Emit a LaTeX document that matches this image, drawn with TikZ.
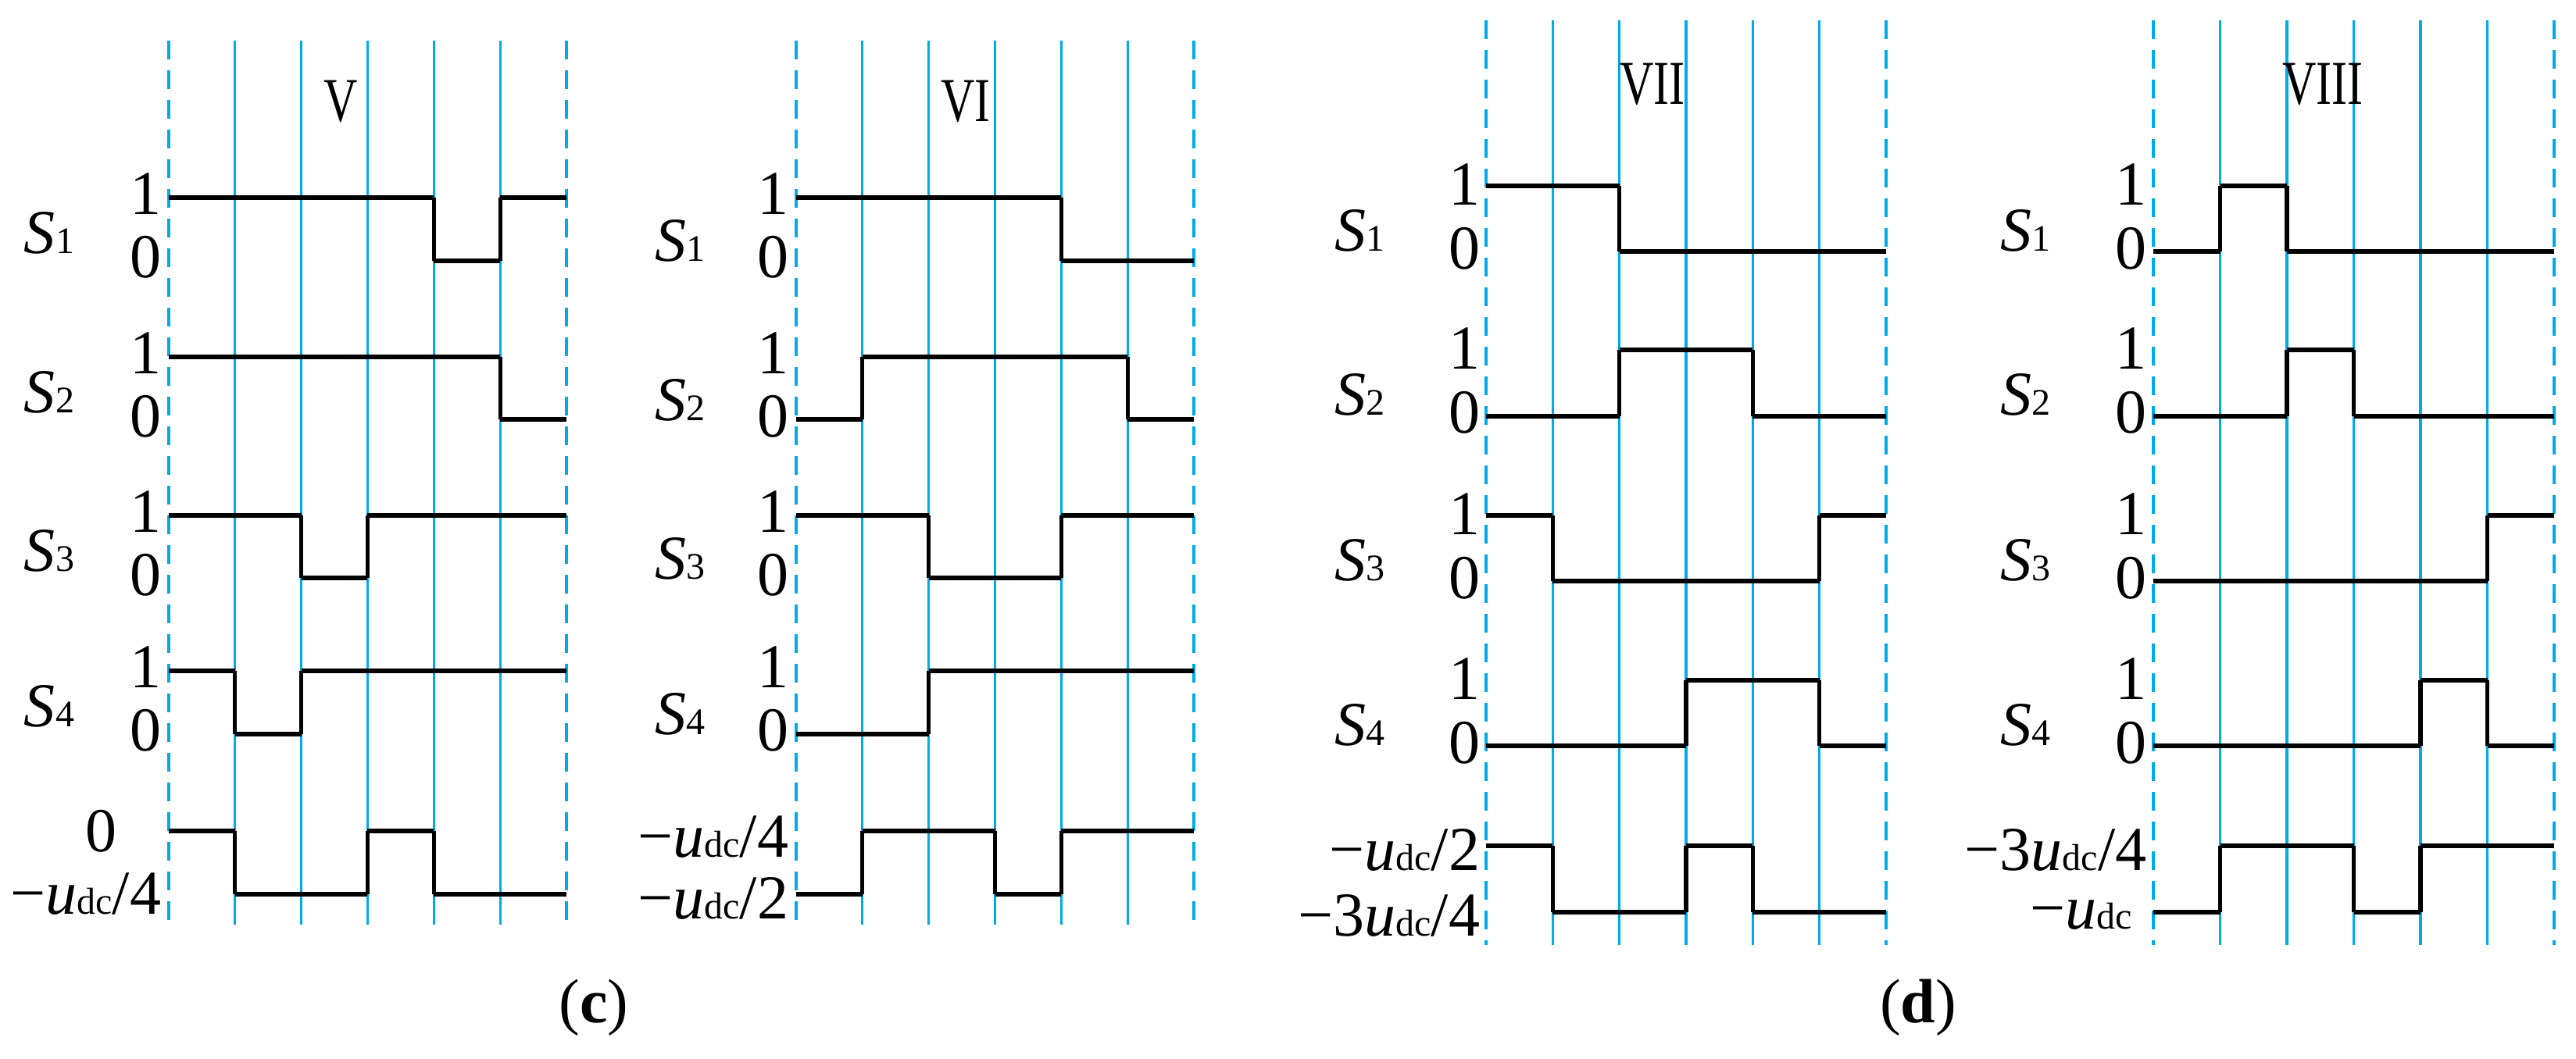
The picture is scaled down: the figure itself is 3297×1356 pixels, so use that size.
\documentclass[tikz,border=0pt]{standalone}
\usepackage{fontspec}
\setmainfont{Liberation Serif}
\definecolor{cy}{RGB}{0,170,235}
\tikzset{
 grid/.style={cy,line width=0.8pt},
 edge/.style={cy,line width=0.9pt,dash pattern=on 6pt off 3.5pt},
 sig/.style={black,line width=1.3pt},
 lab/.style={font=\fontsize{20}{24}\selectfont,inner sep=0pt},
 rom/.style={font=\fontsize{20}{24}\selectfont,inner sep=0pt,xscale=0.75},
}
\newcommand\wave[5]{% x0, dx, yhi, ylo, list
 \foreach \v [count=\i from 0, remember=\v as \pv (initially 9)] in {#5}{
  \pgfmathsetmacro\yy{#4+\v*(#3-#4)}
  \draw[sig] ({#1+\i*#2},\yy) -- ({#1+(\i+1)*#2},\yy);
  \ifnum\pv=9\relax\else\ifnum\pv=\v\relax\else
   \draw[sig] ({#1+\i*#2},#3) -- ({#1+\i*#2},#4);\fi\fi
 }}
\newcommand\pframe[4]{% x0, x1, ytop, ybot
 \draw[edge] (#1,#3) -- (#1,#4);
 \draw[edge] (#2,#3) -- (#2,#4);
 \foreach \k in {1,...,5}{\draw[grid] ({#1+\k*(#2-#1)/6},#3) -- ({#1+\k*(#2-#1)/6},#4);}
}
\newcommand\Sg[1]{\textit{S}{\fontsize{12}{14}\selectfont #1}}
\newcommand\ud{\textit{u}{\fontsize{12}{14}\selectfont dc}}
\begin{document}
\begin{tikzpicture}[x=0.25pt,y=-0.25pt]
\useasboundingbox (0,0) rectangle (3297,1356);
% ---------- panel c : V
\pframe{216}{725}{52}{1184}
\node[rom] at (436,130) {V};
\wave{216}{84.83}{253}{334}{1,1,1,1,0,1}
\wave{216}{84.83}{457}{537}{1,1,1,1,1,0}
\wave{216}{84.83}{660}{740}{1,1,0,1,1,1}
\wave{216}{84.83}{859}{940}{1,0,1,1,1,1}
\wave{216}{84.83}{1064}{1145}{1,0,0,1,0,0}
\foreach \yh/\n in {253/1,457/2,660/3,859/4}{
 \node[lab,anchor=east] at (207,\yh-5) {1};
 \node[lab,anchor=east] at (207,\yh+76) {0};
 \node[lab] at (63,\yh+45) {\Sg{\n}};}
\node[lab,anchor=east] at (150,1064) {0};
\node[lab,anchor=east] at (207,1145) {−\ud/4};
% ---------- panel c : VI
\pframe{1019}{1528}{52}{1184}
\node[rom] at (1236,130) {VI};
\wave{1019}{84.83}{253}{334}{1,1,1,1,0,0}
\wave{1019}{84.83}{457}{537}{0,1,1,1,1,0}
\wave{1019}{84.83}{660}{740}{1,1,0,0,1,1}
\wave{1019}{84.83}{859}{940}{0,0,1,1,1,1}
\wave{1019}{84.83}{1064}{1145}{0,1,1,0,1,1}
\foreach \yh/\n in {253/1,457/2,660/3,859/4}{
 \node[lab,anchor=east] at (1010,\yh-5) {1};
 \node[lab,anchor=east] at (1010,\yh+76) {0};
 \node[lab] at (870,\yh+55) {\Sg{\n}};}
\node[lab,anchor=east] at (1010,1072) {−\ud/4};
\node[lab,anchor=east] at (1010,1150) {−\ud/2};
\node[lab] at (760,1290) {(\textbf{c})};
% ---------- panel d : VII
\pframe{1902}{2414}{26}{1210}
\node[rom] at (2115,108) {VII};
\wave{1902}{85.33}{238}{322}{1,1,0,0,0,0}
\wave{1902}{85.33}{448}{533}{0,0,1,1,0,0}
\wave{1902}{85.33}{660}{744}{1,0,0,0,0,1}
\wave{1902}{85.33}{871}{955}{0,0,0,1,1,0}
\wave{1902}{85.33}{1083}{1168}{1,0,0,1,0,0}
\foreach \yh/\n in {238/1,448/2,660/3,871/4}{
 \node[lab,anchor=east] at (1895,\yh-2) {1};
 \node[lab,anchor=east] at (1895,\yh+80) {0};
 \node[lab] at (1740,\yh+57) {\Sg{\n}};}
\node[lab,anchor=east] at (1895,1088) {−\ud/2};
\node[lab,anchor=east] at (1895,1172) {−3\ud/4};
\node[lab] at (2455,1290) {(\textbf{d})};
% ---------- panel d : VIII
\pframe{2756}{3269}{26}{1210}
\node[rom] at (2973,108) {VIII};
\wave{2756}{85.5}{238}{322}{0,1,0,0,0,0}
\wave{2756}{85.5}{448}{533}{0,0,1,0,0,0}
\wave{2756}{85.5}{660}{744}{0,0,0,0,0,1}
\wave{2756}{85.5}{871}{955}{0,0,0,0,1,0}
\wave{2756}{85.5}{1083}{1168}{0,1,1,0,1,1}
\foreach \yh/\n in {238/1,448/2,660/3,871/4}{
 \node[lab,anchor=east] at (2748,\yh-2) {1};
 \node[lab,anchor=east] at (2748,\yh+80) {0};
 \node[lab] at (2592,\yh+57) {\Sg{\n}};}
\node[lab,anchor=east] at (2748,1088) {−3\ud/4};
\node[lab,anchor=east] at (2730,1172) {−\ud};
\end{tikzpicture}
\end{document}
